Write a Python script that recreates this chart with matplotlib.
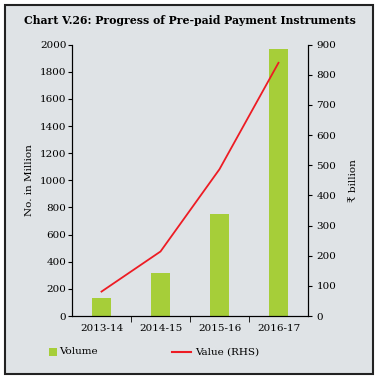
import matplotlib
matplotlib.use("Agg")
import matplotlib.pyplot as plt
from matplotlib.patches import Rectangle
from matplotlib.lines import Line2D

categories = ["2013-14", "2014-15", "2015-16", "2016-17"]
volume = [135, 315, 752, 1965]
value_rhs = [81, 214, 487, 840]

left_ticks = list(range(0, 2001, 200))
right_ticks = list(range(0, 901, 100))

BG = "#dfe3e6"
GREEN = "#a6ce39"
RED = "#ed1c24"
FONT = "DejaVu Serif"
plt.rcParams["font.family"] = [FONT]

W, H = 380, 379
fig = plt.figure(figsize=(W / 100, H / 100), dpi=100)
fig.patch.set_facecolor("white")
fig.patches.append(Rectangle((4.5 / W, 1 - 373.5 / H), 368.5 / W, 369 / H,
                             transform=fig.transFigure, facecolor=BG,
                             edgecolor="#222222", linewidth=1.5, zorder=-10))

ax = fig.add_axes([72 / W, 1 - 316 / H, 236 / W, 271.3 / H])
ax.set_facecolor(BG)
ax.patch.set_alpha(0)
x = list(range(len(categories)))
ax.bar(x, volume, width=0.32, color=GREEN, zorder=2)
ax.set_xlim(-0.5, 3.5)
ax.set_ylim(0, 2000)
ax.set_yticks(left_ticks)
ax.set_xticks(x)
ax.set_xticklabels(categories, fontsize=7.5)
ax.tick_params(axis="x", length=0, pad=6)
ax.set_xticks([0.5, 1.5, 2.5], minor=True)
ax.tick_params(axis="x", which="minor", length=4, direction="out")
ax.tick_params(axis="y", labelsize=7.5, length=3, pad=1)
ax.spines["top"].set_visible(False)
ax.set_ylabel("No. in Million", fontsize=7.5, labelpad=4)

ax2 = ax.twinx()
ax2.plot(x, value_rhs, color=RED, linewidth=1.3, zorder=3)
ax2.set_ylim(0, 900)
ax2.set_yticks(right_ticks)
ax2.tick_params(axis="y", labelsize=7.5, length=3, pad=3)
ax2.spines["top"].set_visible(False)
ax2.set_ylabel("₹ billion", fontsize=7.5, rotation=90, labelpad=9)

fig.text(190 / W, 1 - 20 / H, "Chart V.26: Progress of Pre-paid Payment Instruments",
         ha="center", va="center", fontsize=7.8, fontweight="bold")

# legend
fig.patches.append(Rectangle((49 / W, 1 - 356 / H), 8 / W, 8 / H,
                             transform=fig.transFigure, facecolor=GREEN,
                             edgecolor="none"))
fig.text(59 / W, 1 - 352 / H, "Volume", ha="left", va="center", fontsize=7.5)
fig.lines.append(Line2D([172 / W, 191 / W], [1 - 352 / H, 1 - 352 / H],
                        transform=fig.transFigure, color=RED, linewidth=1.5))
fig.text(195 / W, 1 - 352 / H, "Value (RHS)", ha="left", va="center", fontsize=7.5)

fig.savefig("out.png", dpi=100, facecolor=fig.get_facecolor())
